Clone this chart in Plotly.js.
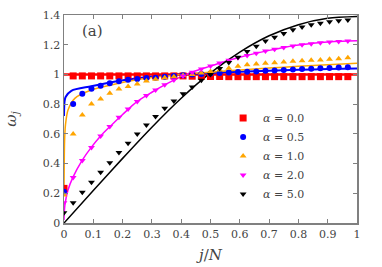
<!DOCTYPE html>
<html>
<head>
<meta charset="utf-8">
<script src="https://cdn.plot.ly/plotly-3.0.1.min.js"></script>
<style>html,body{margin:0;padding:0;background:#fff;}#chart{width:382px;height:267px;}</style>
</head>
<body>
<div id="chart"></div>
<script>
// marker positions j/N
var xMarkers = [0,0.03125,0.0625,0.09375,0.125,0.15625,0.1875,0.21875,0.25,0.28125,0.3125,0.34375,0.375,0.40625,0.4375,0.46875,0.5,0.53125,0.5625,0.59375,0.625,0.65625,0.6875,0.71875,0.75,0.78125,0.8125,0.84375,0.875,0.90625,0.9375,0.96875];

var alpha00Markers = [0.233,0.99,0.99,0.99,0.99,0.99,0.99,0.99,0.99,0.99,0.99,0.99,0.99,0.99,0.988,0.987,0.986,0.986,0.985,0.985,0.985,0.985,0.985,0.985,0.985,0.985,0.985,0.985,0.985,0.985,0.985,0.985];
var alpha05Markers = [0.211,0.801,0.870,0.904,0.924,0.940,0.954,0.965,0.969,0.976,0.978,0.985,0.990,0.995,1.000,1.003,1.007,1.010,1.013,1.016,1.018,1.020,1.024,1.027,1.030,1.033,1.036,1.039,1.041,1.044,1.046,1.048];
var alpha10Markers = [0.188,0.599,0.727,0.801,0.835,0.873,0.902,0.918,0.936,0.956,0.967,0.977,0.985,0.993,1.000,1.010,1.020,1.030,1.041,1.055,1.065,1.070,1.076,1.079,1.084,1.088,1.092,1.095,1.097,1.102,1.106,1.113];
var alpha20Markers = [0.137,0.307,0.420,0.509,0.586,0.650,0.712,0.768,0.818,0.858,0.895,0.930,0.962,0.990,1.015,1.037,1.057,1.077,1.095,1.112,1.128,1.143,1.157,1.170,1.182,1.192,1.200,1.207,1.213,1.218,1.222,1.225];
var alpha50Markers = [0.069,0.137,0.207,0.274,0.341,0.406,0.474,0.537,0.599,0.660,0.716,0.772,0.821,0.870,0.915,0.960,1.000,1.040,1.080,1.115,1.155,1.190,1.225,1.250,1.275,1.300,1.320,1.335,1.345,1.355,1.362,1.366];

// continuous curves
var alpha00LineX = [0, 1];
var alpha00LineY = [1, 1];
var alpha05LineX = [0,0.002,0.006,0.025,0.093,0.207,0.321,0.4,0.5,0.6,0.7,0.8,0.9,1];
var alpha05LineY = [0.72,0.82,0.85,0.89,0.92,0.962,0.99,1.0,1.01,1.018,1.025,1.031,1.036,1.04];
var alpha10LineX = [0,0.002,0.005,0.0137,0.037,0.093,0.15,0.207,0.264,0.321,0.4,0.5,0.6,0.7,0.8,0.9,1];
var alpha10LineY = [0.2,0.55,0.66,0.76,0.839,0.895,0.924,0.949,0.969,0.985,1.0,1.015,1.03,1.043,1.055,1.065,1.075];
var alpha20LineX = [0,0.003,0.0137,0.0303,0.0614,0.093,0.125,0.16,0.2,0.25,0.3,0.35,0.4,0.45,0.5,0.55,0.6,0.65,0.7,0.75,0.8,0.85,0.9,0.95,1];
var alpha20LineY = [0.02,0.12,0.222,0.307,0.42,0.509,0.586,0.655,0.73,0.818,0.88,0.936,0.985,1.025,1.056,1.087,1.115,1.14,1.162,1.182,1.198,1.21,1.219,1.224,1.226];
var alpha50LineX = [0,0.1,0.2,0.3,0.4,0.5,0.6,0.7,0.8,0.9,1];
var alpha50LineY = [0,0.218,0.435,0.645,0.84,1.01,1.15,1.26,1.335,1.378,1.39];

var labels = ['<i>α</i> = 0.0','<i>α</i> = 0.5','<i>α</i> = 1.0','<i>α</i> = 2.0','<i>α</i> = 5.0'];
var colors = ['#ff0000','#0000ff','#ffa500','#ff00ff','#000000'];
var symbols = ['square','circle','triangle-up','triangle-down','triangle-down'];
var lineWidths = [2.5,2,1.5,1.5,1.5];

var lineX = [alpha00LineX,alpha05LineX,alpha10LineX,alpha20LineX,alpha50LineX];
var lineY = [alpha00LineY,alpha05LineY,alpha10LineY,alpha20LineY,alpha50LineY];
var markY = [alpha00Markers,alpha05Markers,alpha10Markers,alpha20Markers,alpha50Markers];

var FONT = 'DejaVu Serif';

var traces = [];
for (var i = 0; i < 5; i++) {
  traces.push({
    x: lineX[i], y: lineY[i], type: 'scatter', mode: 'lines',
    line: {color: colors[i], width: lineWidths[i], shape: i === 0 ? 'linear' : 'spline', smoothing: 0.8},
    showlegend: false, hoverinfo: 'skip'
  });
}
for (var k = 0; k < 5; k++) {
  traces.push({
    x: xMarkers, y: markY[k], type: 'scatter', mode: 'markers', name: labels[k],
    marker: {color: colors[k], symbol: symbols[k], size: k === 0 ? 7 : 6, line: {width: 0}}
  });
}

var axisCommon = {
  showgrid: false, zeroline: false, showline: true, mirror: 'allticks',
  linecolor: '#808080', linewidth: 1.5,
  ticks: 'inside', ticklen: 4, tickwidth: 1, tickcolor: '#808080',
  tickfont: {family: FONT, size: 11, color: '#444'}
};

var layout = {
  width: 382, height: 267,
  margin: {l: 64, r: 25, t: 15, b: 44},
  paper_bgcolor: '#fff', plot_bgcolor: '#fff',
  font: {family: FONT, size: 11, color: '#444'},
  xaxis: Object.assign({}, axisCommon, {
    range: [0, 1], dtick: 0.1, tick0: 0,
    title: {text: '<i>j</i>/<i>N</i>', font: {family: FONT, size: 15, color: '#444'}, standoff: 10}
  }),
  yaxis: Object.assign({}, axisCommon, {
    range: [0, 1.4], dtick: 0.2, tick0: 0,
    title: {text: '<i>ω<sub>j</sub></i>', font: {family: FONT, size: 15, color: '#444'}, standoff: 22}
  }),
  legend: {
    x: 0.84, xanchor: 'right', y: 0.575, yanchor: 'top',
    bgcolor: 'rgba(255,255,255,0)', borderwidth: 0,
    font: {family: FONT, size: 11, color: '#444'},
    itemwidth: 30
  },
  annotations: [{
    text: '(a)', xref: 'paper', yref: 'paper', x: 0.096, y: 0.923,
    xanchor: 'center', yanchor: 'middle', showarrow: false,
    font: {family: FONT, size: 15, color: '#444'}
  }]
};

Plotly.newPlot('chart', traces, layout, {displayModeBar: false, staticPlot: true});
</script>
</body>
</html>
